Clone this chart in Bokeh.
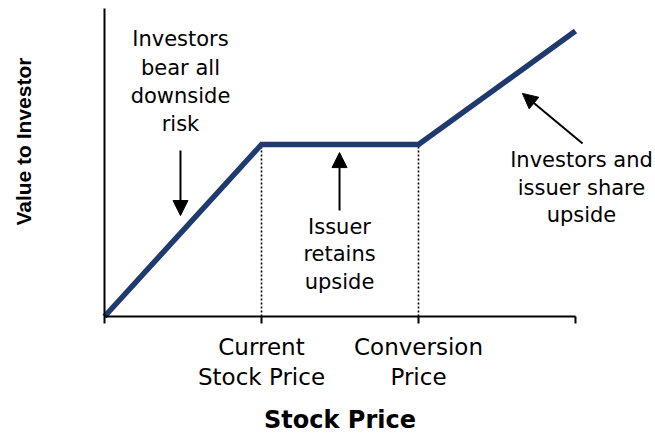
import math
from bokeh.plotting import figure
from bokeh.core.properties import value
from bokeh.models import (ColumnDataSource, Range1d, FixedTicker, Arrow, NormalHead,
                          LabelSet, Label)
from bokeh.embed import file_html
from bokeh.resources import INLINE

# ---- data ----
stock_price = [0, 1, 2, 3]            # origin, current, conversion, end
investor_value = [0, 1.0, 1.0, 1.66]  # value to investor at those prices
tick_labels = ["", "Current\nStock Price", "Conversion\nPrice", ""]

# annotation texts
note_lines = ["Investors", "bear all", "downside", "risk",
              "Issuer", "retains", "upside",
              "Investors and", "issuer share", "upside"]

# ---- layout positions (data space) ----
note_x = [0.484] * 4 + [1.497] * 3 + [3.038] * 3
note_y = [1.570, 1.405, 1.241, 1.076,
          0.481, 0.320, 0.160,
          0.872, 0.709, 0.548]
arrows = [  # x_start, y_start, x_end, y_end
    (0.484, 0.965, 0.484, 0.587),
    (1.497, 0.616, 1.497, 0.953),
    (3.045, 1.006, 2.662, 1.297),
]

FONT = "DejaVu Sans"
NAVY = "#1F3A6E"

p = figure(width=655, height=433,
           x_range=Range1d(-0.6624, 3.5096), y_range=Range1d(-0.6802, 1.8372),
           output_backend="svg", toolbar_location=None,
           min_border_left=0, min_border_right=0, min_border_top=0,
           min_border_bottom=0)
p.outline_line_color = None
p.grid.visible = False
p.background_fill_color = "white"
p.border_fill_color = "white"

# axes (fixed at the origin, inside the frame)
xa = p.xaxis[0]
xa.fixed_location = 0
xa.bounds = (stock_price[0], stock_price[-1])
xa.ticker = FixedTicker(ticks=stock_price)
xa.major_label_overrides = {int(v): t for v, t in zip(stock_price, tick_labels)}
xa.minor_tick_line_color = None
xa.major_tick_in = 0
xa.major_tick_out = 7
xa.major_tick_line_width = 2
xa.major_tick_line_color = "black"
xa.axis_line_width = 2
xa.axis_line_color = "black"
xa.major_label_standoff = 10
xa.major_label_text_font = FONT
xa.major_label_text_font_size = "23px"
xa.major_label_text_color = "black"
xa.major_label_text_line_height = 1.18

ya = p.yaxis[0]
ya.fixed_location = 0
ya.bounds = (0, 1.79)
ya.ticker = FixedTicker(ticks=[])
ya.minor_tick_line_color = None
ya.major_tick_line_color = None
ya.axis_line_width = 2
ya.axis_line_color = "black"

# dotted guides
guide = ColumnDataSource(dict(x=stock_price[1:3], y0=[0, 0], y1=investor_value[1:3]))
p.segment(x0="x", y0="y0", x1="x", y1="y1", source=guide, line_color="black",
          line_width=1.6, line_dash="2 2")

# payoff line
p.line(stock_price, investor_value, line_color=NAVY, line_width=5.5, line_join="miter")

# arrows
for xs, ys, xe, ye in arrows:
    p.add_layout(Arrow(x_start=xs, y_start=ys, x_end=xe, y_end=ye, line_width=2,
                       line_color="black",
                       end=NormalHead(size=15, fill_color="black", line_color="black")))

# annotation text
notes = ColumnDataSource(dict(x=note_x, y=note_y, text=note_lines))
p.add_layout(LabelSet(x="x", y="y", text="text", source=notes, text_align="center",
                      text_baseline="alphabetic", text_font=value(FONT),
                      text_font_size=value("21px"), text_color="black"))

# axis titles
p.add_layout(Label(x=1.5, y=-0.60, text="Stock Price", text_align="center",
                   text_baseline="alphabetic", text_font=FONT, text_font_style="bold",
                   text_font_size="24px", text_color="black"))
p.add_layout(Label(x=-0.513, y=1.017, text="Value to Investor", angle=math.pi / 2,
                   text_align="center", text_baseline="middle",
                   text_font="Liberation Sans", text_font_style="bold",
                   text_font_size="21px", text_color="black"))

open("out.html", "w").write(file_html(p, INLINE))
